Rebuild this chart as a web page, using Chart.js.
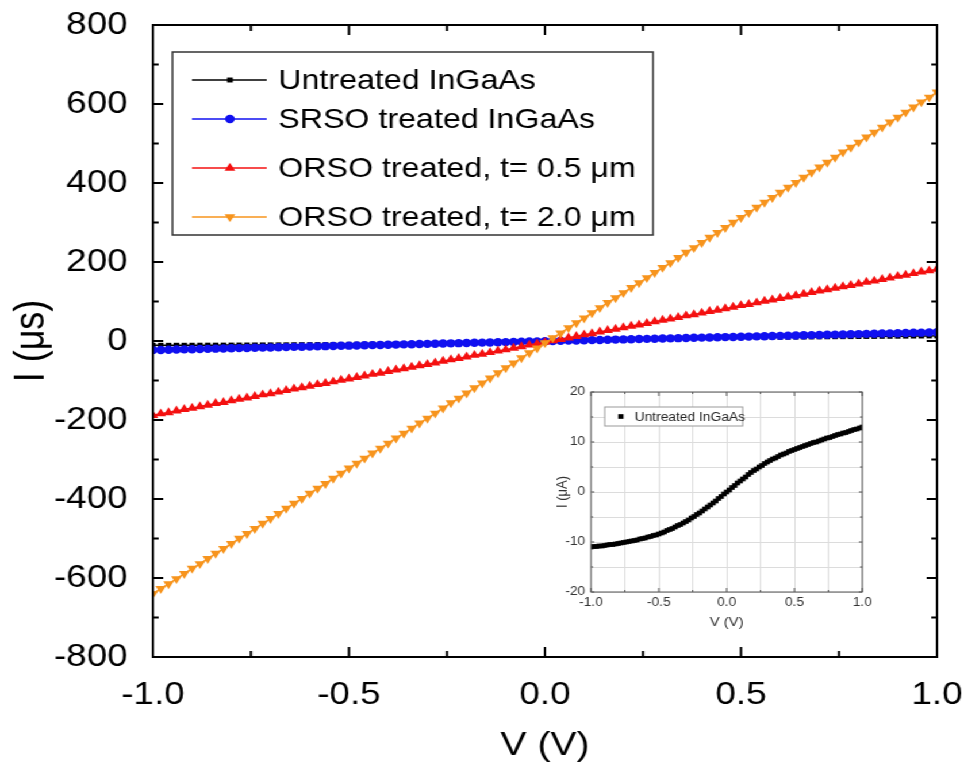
<!DOCTYPE html>
<html>
<head>
<meta charset="utf-8">
<script src="https://cdn.jsdelivr.net/npm/chart.js@4/dist/chart.umd.min.js"></script>
<style>
  html, body { margin: 0; padding: 0; background: #fff; overflow: hidden; }
  #wrap { position: relative; width: 842px; height: 772px; transform: scaleX(1.1497); transform-origin: 0 0; }
  #main { position: absolute; left: 0; top: 0; width: 842px; height: 772px; }
  #inset { position: absolute; left: 474px; top: 380px; width: 287px; height: 252px; background: #fff; }
</style>
</head>
<body>
<div id="wrap">
  <canvas id="main" width="842" height="772"></canvas>
  <canvas id="inset" width="287" height="252"></canvas>
</div>
<script>
// bias voltage sweep (V)
var volts = [
  -1, -0.98, -0.96, -0.94, -0.92, -0.9, -0.88, -0.86, -0.84, -0.82,
  -0.8, -0.78, -0.76, -0.74, -0.72, -0.7, -0.68, -0.66, -0.64, -0.62,
  -0.6, -0.58, -0.56, -0.54, -0.52, -0.5, -0.48, -0.46, -0.44, -0.42,
  -0.4, -0.38, -0.36, -0.34, -0.32, -0.3, -0.28, -0.26, -0.24, -0.22,
  -0.2, -0.18, -0.16, -0.14, -0.12, -0.1, -0.08, -0.06, -0.04, -0.02,
  0, 0.02, 0.04, 0.06, 0.08, 0.1, 0.12, 0.14, 0.16, 0.18,
  0.2, 0.22, 0.24, 0.26, 0.28, 0.3, 0.32, 0.34, 0.36, 0.38,
  0.4, 0.42, 0.44, 0.46, 0.48, 0.5, 0.52, 0.54, 0.56, 0.58,
  0.6, 0.62, 0.64, 0.66, 0.68, 0.7, 0.72, 0.74, 0.76, 0.78,
  0.8, 0.82, 0.84, 0.86, 0.88, 0.9, 0.92, 0.94, 0.96, 0.98,
  1
];

var untreated = [
  -11.0, -10.9, -10.9, -10.8, -10.8, -10.7, -10.6, -10.5, -10.5, -10.4,
  -10.3, -10.2, -10.1, -10.0, -9.9, -9.8, -9.7, -9.6, -9.4, -9.3,
  -9.2, -9.0, -8.9, -8.7, -8.6, -8.4, -8.2, -8.0, -7.7, -7.5,
  -7.3, -7.0, -6.7, -6.5, -6.2, -5.9, -5.6, -5.2, -4.9, -4.5,
  -4.2, -3.8, -3.4, -3.0, -2.6, -2.2, -1.8, -1.3, -0.9, -0.4,
  0.0, 0.4, 0.9, 1.3, 1.8, 2.2, 2.6, 3.0, 3.5, 3.9,
  4.3, 4.6, 5.0, 5.3, 5.7, 6.0, 6.3, 6.6, 6.8, 7.1,
  7.4, 7.6, 7.8, 8.1, 8.3, 8.5, 8.7, 8.9, 9.1, 9.3,
  9.5, 9.7, 9.9, 10.0, 10.2, 10.4, 10.6, 10.8, 10.9, 11.1,
  11.3, 11.5, 11.6, 11.8, 11.9, 12.1, 12.3, 12.5, 12.6, 12.8,
  13.0
];

var srso = [
  -23.0, -22.6, -22.1, -21.7, -21.2, -20.8, -20.3, -19.9, -19.4, -19.0,
  -18.5, -18.1, -17.6, -17.2, -16.7, -16.3, -15.8, -15.4, -14.9, -14.5,
  -14.0, -13.6, -13.1, -12.7, -12.2, -11.8, -11.3, -10.9, -10.4, -10.0,
  -9.5, -9.1, -8.6, -8.2, -7.7, -7.3, -6.8, -6.4, -5.9, -5.5,
  -5.0, -4.6, -4.1, -3.7, -3.2, -2.8, -2.3, -1.9, -1.4, -1.0,
  -0.5, 0.0, 0.4, 0.9, 1.3, 1.8, 2.2, 2.7, 3.1, 3.6,
  4.0, 4.5, 4.9, 5.4, 5.8, 6.3, 6.7, 7.2, 7.6, 8.1,
  8.5, 9.0, 9.4, 9.9, 10.3, 10.8, 11.2, 11.7, 12.1, 12.6,
  13.0, 13.5, 13.9, 14.4, 14.8, 15.3, 15.7, 16.2, 16.6, 17.1,
  17.5, 18.0, 18.4, 18.9, 19.3, 19.8, 20.2, 20.7, 21.1, 21.6,
  22.0
];

var orso05 = [
  -188, -184, -181, -177, -173, -170, -166, -162, -158, -155,
  -151, -147, -144, -140, -136, -133, -129, -125, -121, -118,
  -114, -110, -107, -103, -99, -96, -92, -88, -84, -81,
  -77, -73, -70, -66, -62, -59, -55, -51, -47, -44,
  -40, -36, -33, -29, -25, -22, -18, -14, -10, -7,
  -3, 1, 4, 8, 12, 16, 19, 23, 27, 30,
  34, 38, 41, 45, 49, 53, 56, 60, 64, 67,
  71, 75, 78, 82, 86, 90, 93, 97, 101, 104,
  108, 112, 115, 119, 123, 127, 130, 134, 138, 141,
  145, 149, 152, 156, 160, 164, 167, 171, 175, 178,
  182
];

var orso20 = [
  -640, -627, -615, -602, -589, -576, -564, -551, -538, -526,
  -513, -500, -488, -475, -462, -450, -437, -424, -411, -399,
  -386, -373, -361, -348, -335, -322, -310, -297, -284, -272,
  -259, -246, -234, -221, -208, -196, -183, -170, -157, -145,
  -132, -119, -107, -94, -81, -68, -56, -43, -30, -18,
  -5, 8, 20, 33, 46, 58, 71, 84, 97, 109,
  122, 135, 147, 160, 173, 186, 198, 211, 224, 236,
  249, 262, 274, 287, 300, 312, 325, 338, 351, 363,
  376, 389, 401, 414, 427, 440, 452, 465, 478, 490,
  503, 516, 528, 541, 554, 566, 579, 592, 605, 617,
  630
];

var seriesNames = [
  'Untreated InGaAs',
  'SRSO treated InGaAs',
  'ORSO treated, t= 0.5 \u03bcm',
  'ORSO treated, t= 2.0 \u03bcm'
];

function pts(ys) {
  return volts.map(function (v, i) { return { x: v, y: ys[i] }; });
}

Chart.defaults.font.family = '"Liberation Sans", Arial, sans-serif';
Chart.defaults.color = '#000';

// closed frame with inward ticks on all four sides
var frameTicks = {
  id: 'frameTicks',
  afterDatasetsDraw: function (chart, args, o) {
    var ctx = chart.ctx, a = chart.chartArea;
    var xs = chart.scales.x, ys = chart.scales.y;
    ctx.save();
    ctx.strokeStyle = o.color;
    ctx.lineWidth = o.width;
    ctx.strokeRect(a.left, a.top, a.right - a.left, a.bottom - a.top);

    function marks(scale) {
      var out = [];
      var t = scale.ticks;
      for (var i = 0; i < t.length; i++) {
        out.push({ v: t[i].value, major: t[i].label !== '' });
        if (o.between && i < t.length - 1) {
          out.push({ v: (t[i].value + t[i + 1].value) / 2, major: false });
        }
      }
      return out;
    }
    ctx.beginPath();
    marks(xs).forEach(function (m) {
      var px = xs.getPixelForValue(m.v);
      var len = m.major ? o.majorV : o.minorV;
      ctx.moveTo(px, a.bottom); ctx.lineTo(px, a.bottom - len);
      ctx.moveTo(px, a.top); ctx.lineTo(px, a.top + len);
    });
    marks(ys).forEach(function (m) {
      var py = ys.getPixelForValue(m.v);
      var len = m.major ? o.majorH : o.minorH;
      ctx.moveTo(a.left, py); ctx.lineTo(a.left + len, py);
      ctx.moveTo(a.right, py); ctx.lineTo(a.right - len, py);
    });
    ctx.stroke();
    ctx.restore();
  }
};

// boxed legend placed inside the plot
var boxLegend = {
  id: 'boxLegend',
  afterDraw: function (chart, args, o) {
    var ctx = chart.ctx;
    ctx.save();
    ctx.fillStyle = '#fff';
    ctx.fillRect(o.left, o.top, o.width, o.height);
    ctx.strokeStyle = o.borderColor;
    ctx.lineWidth = o.borderWidth;
    ctx.strokeRect(o.left, o.top, o.width, o.height);
    ctx.font = o.font;
    ctx.textBaseline = 'middle';
    ctx.textAlign = 'left';
    chart.data.datasets.forEach(function (ds, i) {
      var y = o.rows[i];
      if (o.line) {
        ctx.strokeStyle = ds.borderColor;
        ctx.lineWidth = ds.borderWidth;
        ctx.beginPath();
        ctx.moveTo(o.lineFrom, y);
        ctx.lineTo(o.lineTo, y);
        ctx.stroke();
      }
      ctx.fillStyle = ds.pointBackgroundColor;
      Chart.helpers.drawPoint(ctx, {
        pointStyle: ds.pointStyle,
        rotation: ds.pointRotation || 0,
        radius: ds.pointRadius,
        borderWidth: 0
      }, o.markX, y);
      ctx.fillStyle = o.color;
      ctx.fillText(ds.label, o.textX, y + 1);
    });
    ctx.restore();
  }
};

// keep the plot box where the layout puts it, ignoring label overhang
function noOverhang(s) {
  s.paddingTop = 0; s.paddingBottom = 0;
  s.paddingLeft = 0; s.paddingRight = 0;
}

function series(label, ys, color, style, radius, rot, order) {
  return {
    label: label,
    data: pts(ys),
    showLine: true,
    borderColor: color,
    borderWidth: 1.5,
    pointStyle: style,
    pointRotation: rot,
    pointRadius: radius,
    pointBackgroundColor: color,
    pointBorderWidth: 0,
    order: order
  };
}

new Chart(document.getElementById('main').getContext('2d'), {
  type: 'scatter',
  data: {
    datasets: [
      series(seriesNames[0], untreated, '#000000', 'rect', 3.5, 0, 3),
      series(seriesNames[1], srso, '#1010f0', 'circle', 4.2, 0, 2),
      series(seriesNames[2], orso05, '#f41010', 'triangle', 5.3, 0, 1),
      series(seriesNames[3], orso20, '#f7941d', 'triangle', 5.3, 180, 0)
    ]
  },
  plugins: [frameTicks, boxLegend],
  options: {
    responsive: false,
    animation: false,
    events: [],
    layout: { padding: { top: 25, right: 27, bottom: 0, left: 0 } },
    scales: {
      x: {
        type: 'linear', min: -1, max: 1,
        grid: { display: false },
        border: { display: false },
        afterFit: function (s) { s.height = 115; noOverhang(s); },
        ticks: {
          stepSize: 0.5, padding: 11, maxRotation: 0,
          font: { size: 32 },
          callback: function (v) { return v.toFixed(1); }
        },
        title: { display: true, text: 'V (V)', font: { size: 34 }, padding: { top: 0, bottom: 6 } }
      },
      y: {
        min: -800, max: 800,
        grid: { display: false },
        border: { display: false },
        afterFit: function (s) { s.width = 133; noOverhang(s); },
        ticks: { stepSize: 200, padding: 14, font: { size: 32 } },
        title: { display: true, text: 'I (\u03bcs)', font: { size: 36 }, padding: { top: 6, bottom: 0 } }
      }
    },
    plugins: {
      legend: { display: false },
      tooltip: { enabled: false },
      frameTicks: { color: '#000', width: 2, between: true, majorV: 10, minorV: 6, majorH: 9, minorH: 5 },
      boxLegend: {
        left: 150, top: 52, width: 418, height: 183,
        rows: [80, 119, 168, 217],
        line: true, lineFrom: 167, lineTo: 232, markX: 200, textX: 242,
        font: '28px "Liberation Sans", Arial, sans-serif',
        color: '#000', borderColor: '#333', borderWidth: 1.5
      }
    }
  }
});

// inset: untreated sample on its own scale
new Chart(document.getElementById('inset').getContext('2d'), {
  type: 'scatter',
  data: {
    datasets: [{
      label: seriesNames[0],
      data: pts(untreated),
      showLine: false,
      pointStyle: 'rect',
      pointRadius: 3.3,
      pointBackgroundColor: '#000',
      pointBorderWidth: 0
    }]
  },
  plugins: [frameTicks, boxLegend],
  options: {
    responsive: false,
    animation: false,
    events: [],
    layout: { padding: { top: 12, right: 11, bottom: 0, left: 0 } },
    scales: {
      x: {
        type: 'linear', min: -1, max: 1,
        grid: { color: '#dcdcdc', lineWidth: 1, drawTicks: false },
        border: { display: false },
        afterFit: function (s) { s.height = 40; noOverhang(s); },
        ticks: {
          stepSize: 0.25, padding: 3, maxRotation: 0, autoSkip: false,
          color: '#333', font: { size: 12 },
          callback: function (v) { return Number.isInteger(v * 2) ? v.toFixed(1) : ''; }
        },
        title: { display: true, text: 'V (V)', color: '#333', font: { size: 13 }, padding: { top: 0, bottom: 2 } }
      },
      y: {
        min: -20, max: 20,
        grid: { color: '#dcdcdc', lineWidth: 1, drawTicks: false },
        border: { display: false },
        afterFit: function (s) { s.width = 40; noOverhang(s); },
        ticks: {
          stepSize: 5, padding: 5, autoSkip: false,
          color: '#333', font: { size: 12 },
          callback: function (v) { return v % 10 === 0 ? v : ''; }
        },
        title: { display: true, text: 'I (\u03bcA)', color: '#333', font: { size: 13 }, padding: { top: 8, bottom: 0 } }
      }
    },
    plugins: {
      legend: { display: false },
      tooltip: { enabled: false },
      frameTicks: { color: '#555', width: 1, between: false, majorV: 4, minorV: 2, majorH: 3, minorH: 2 },
      boxLegend: {
        left: 52, top: 27, width: 120, height: 19,
        rows: [36.5],
        line: false, markX: 66, textX: 78,
        font: '12px "Liberation Sans", Arial, sans-serif',
        color: '#222', borderColor: '#999', borderWidth: 1
      }
    }
  }
});
</script>
</body>
</html>
